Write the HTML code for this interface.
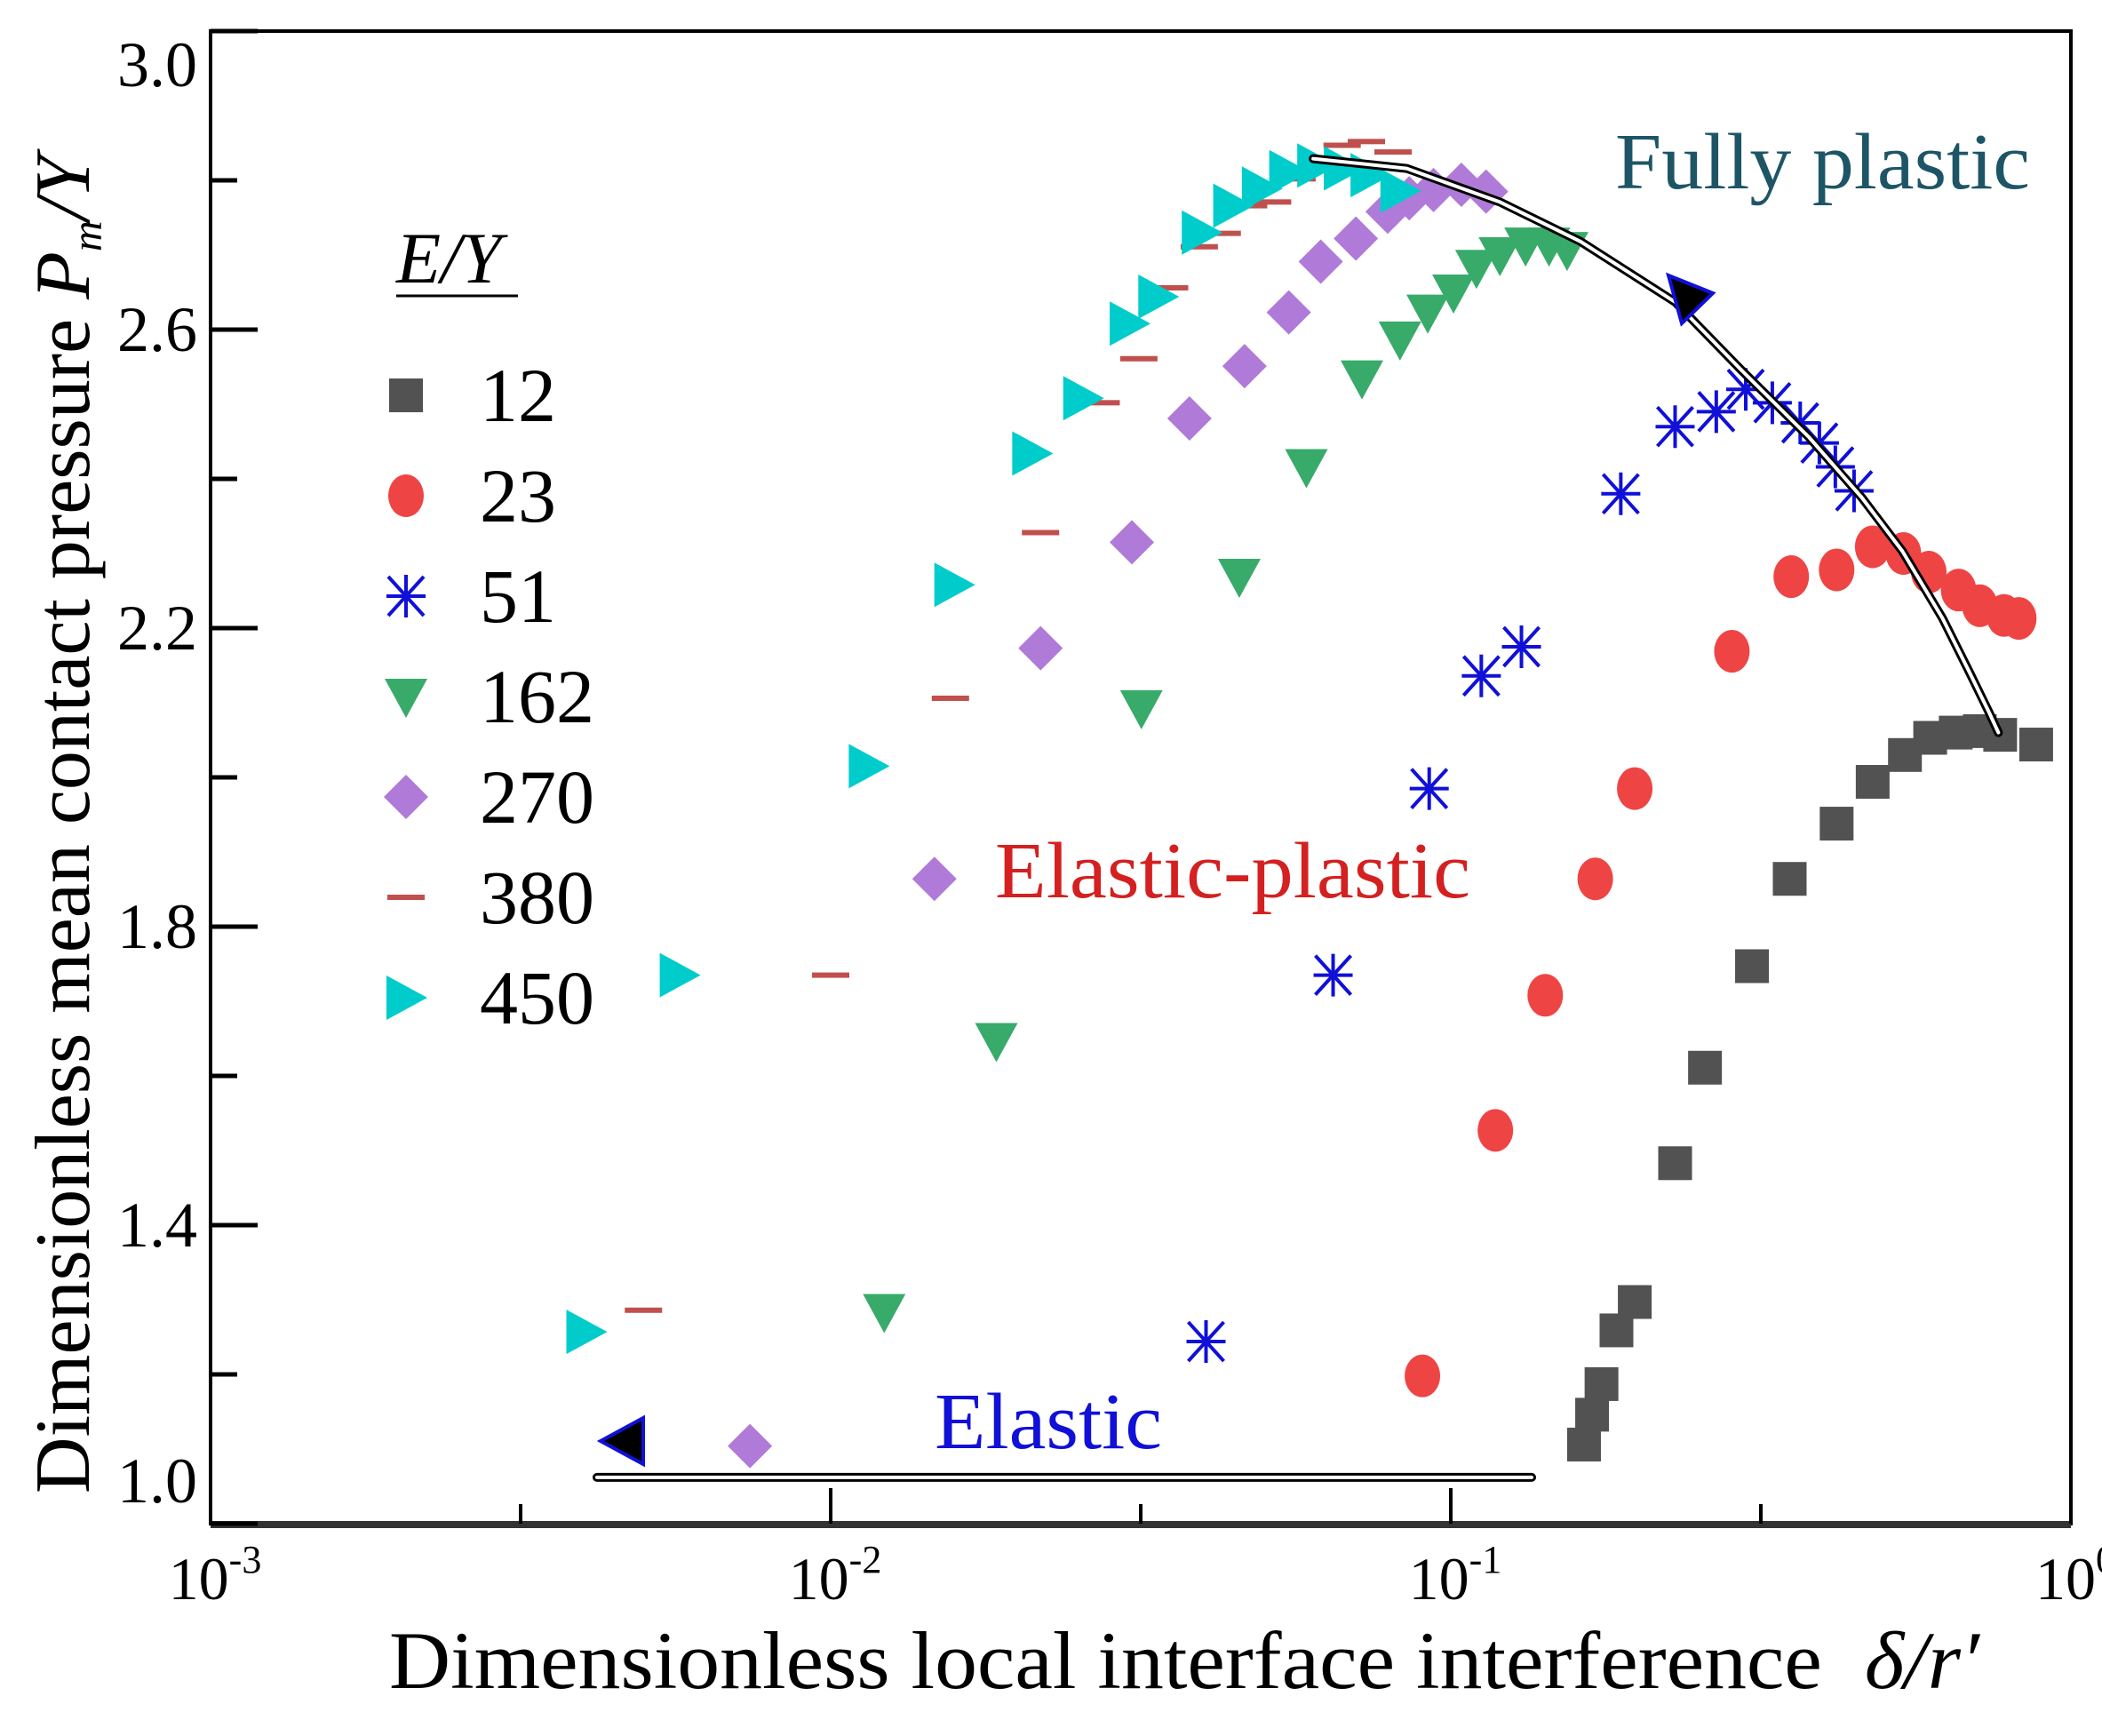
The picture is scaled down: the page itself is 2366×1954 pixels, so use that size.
<!DOCTYPE html>
<html><head><meta charset="utf-8"><style>
html,body{margin:0;padding:0;background:#fff;}
svg{display:block;font-family:"Liberation Serif",serif;}
</style></head><body>
<svg id="chart" width="2366" height="1954" viewBox="0 0 2366 1954" xmlns="http://www.w3.org/2000/svg">
<g id="frame"></g>
<g id="marks"></g>
<g id="annot"></g>
</svg>
<script>
const xTickValues=[0.001,0.01,0.1,1];
const xTickExps=["-3","-2","-1","0"];
const yTickValues=[1.0,1.4,1.8,2.2,2.6,3.0];
const yTickLabels=["1.0","1.4","1.8","2.2","2.6","3.0"];
const seriesNames=["12","23","51","162","270","380","450"];
const x12=[0.164,0.169,0.175,0.185,0.198,0.230,0.257,0.306,0.352,0.419,0.479,0.540,0.593,0.652,0.713,0.769,0.879];
const y12=[1.106,1.146,1.187,1.259,1.297,1.483,1.611,1.747,1.864,1.938,1.994,2.030,2.053,2.060,2.062,2.057,2.044];
const x23=[0.090,0.118,0.142,0.171,0.198,0.284,0.354,0.419,0.479,0.537,0.590,0.659,0.713,0.780,0.824];
const y23=[1.198,1.527,1.708,1.864,1.985,2.169,2.269,2.278,2.309,2.300,2.275,2.251,2.230,2.217,2.213];
const x51=[0.0403,0.0646,0.0923,0.112,0.130,0.188,0.230,0.268,0.299,0.330,0.366,0.393,0.417,0.447];
const y51=[1.244,1.735,1.985,2.136,2.175,2.380,2.470,2.490,2.520,2.502,2.475,2.448,2.416,2.384];
const x162=[0.0122,0.0185,0.0317,0.0456,0.0585,0.0719,0.0828,0.0918,0.101,0.110,0.120,0.132,0.144,0.154];
const y162=[1.284,1.647,2.093,2.269,2.416,2.535,2.587,2.623,2.650,2.683,2.700,2.713,2.713,2.707];
const x270=[0.00741,0.0147,0.0218,0.0306,0.0379,0.0465,0.0548,0.0617,0.0703,0.0791,0.0857,0.0938,0.104,0.114];
const y270=[1.104,1.864,2.173,2.315,2.481,2.551,2.623,2.691,2.722,2.758,2.776,2.787,2.794,2.785];
const x380=[0.00499,0.0100,0.0156,0.0218,0.0273,0.0314,0.0352,0.0393,0.0428,0.0472,0.0516,0.0565,0.0614,0.0668,0.0731,0.0807];
const y380=[1.286,1.735,2.106,2.328,2.502,2.561,2.656,2.711,2.729,2.766,2.771,2.802,2.822,2.847,2.852,2.838];
const x450=[0.00403,0.00570,0.0115,0.0158,0.0211,0.0255,0.0303,0.0337,0.0396,0.0445,0.0495,0.0548,0.0608,0.0671,0.0741,0.0828];
const y450=[1.257,1.735,2.015,2.258,2.434,2.508,2.608,2.644,2.730,2.766,2.789,2.811,2.820,2.816,2.807,2.786];
const plasticX=[0.060,0.0849,0.120,0.162,0.230,0.294,0.378,0.460,0.535,0.621,0.686,0.738,0.764];
const plasticY=[2.829,2.816,2.771,2.718,2.637,2.546,2.456,2.375,2.303,2.213,2.141,2.087,2.060];
const elasticX=[0.0042,0.135];
const elasticY=[1.062,1.062];

const NS="http://www.w3.org/2000/svg";
const L=237,R=2331,T=35,B=1715;
function X(v){return L+(Math.log10(v)+3)*(R-L)/3;}
function Y(v){return B-(v-1)*(B-T)/2;}
function mk(tag,attrs,parent){const e=document.createElementNS(NS,tag);for(const k in attrs)e.setAttribute(k,attrs[k]);parent.appendChild(e);return e;}
const frame=document.getElementById('frame'),marks=document.getElementById('marks'),annot=document.getElementById('annot');

let f=mk('rect',{x:L,y:T,width:R-L,height:B-T,fill:'none',stroke:'#000','stroke-width':4},frame);


let xa=mk('line',{x1:L,y1:B+1,x2:R,y2:B+1,stroke:'#333','stroke-width':8},frame);



for(let k=0;k<=10;k++){
  const v=1+k*0.2;
  const major=k%2===0;
  const t=mk('line',{x1:L,y1:Y(v),x2:L+(major?53:30),y2:Y(v),stroke:'#000','stroke-width':5},frame);
  
  
}
yTickValues.forEach((v,i)=>{
  const off=[-48,0,0,0,0,38][i];
  const t=mk('text',{x:222,y:Y(v)+off+24,'text-anchor':'end','font-size':72},frame);
  t.textContent=yTickLabels[i];
  
  
});
for(let k=0;k<=6;k++){
  const e=-3+k*0.5;
  const major=k%2===0;
  const xx=L+(e+3)*(R-L)/3;
  const t=mk('line',{x1:xx,y1:B,x2:xx,y2:B-(major?40:22),stroke:'#000','stroke-width':4},frame);
  
  
}
xTickValues.forEach((v,i)=>{
  const t=mk('text',{x:X(v)+5,y:1800,'text-anchor':'middle','font-size':68},frame);
  t.textContent='10';
  const s=mk('tspan',{dy:-30,'font-size':44},t);
  s.textContent=xTickExps[i];
  
  
});
let xt=mk('text',{x:438,y:1900,'font-size':92,textLength:1790,lengthAdjust:'spacingAndGlyphs'},frame);
xt.innerHTML='Dimensionless local interface interference&#160;&#160;<tspan font-style="italic">δ/r′</tspan>';


let yt=mk('text',{x:0,y:0,'font-size':88,'text-anchor':'middle',transform:'translate(100,928) rotate(-90)'},frame);
yt.innerHTML='Dimensionless mean contact pressure <tspan font-style="italic">P</tspan><tspan font-style="italic" font-size="48" dy="14">m</tspan><tspan font-style="italic" dy="-14">/Y</tspan>';



function dbl(xs,ys,name){
  const d=xs.map((v,i)=>(i?'L':'M')+X(v).toFixed(1)+','+Y(ys[i]).toFixed(1)).join(' ');
  const g=mk('g',{},annot);
  
  
  mk('path',{d:d,fill:'none',stroke:'#000','stroke-width':10,'stroke-linejoin':'round','stroke-linecap':'round'},g);
  mk('path',{d:d,fill:'none',stroke:'#fff','stroke-width':4,'stroke-linejoin':'round','stroke-linecap':'round'},g);
}
dbl(plasticX,plasticY,'fully-plastic-boundary');
dbl(elasticX,elasticY,'elastic-boundary');

function marker(type,cx,cy,parent){
  const g=mk('g',{},parent);
  if(type==='sq') mk('rect',{x:cx-19,y:cy-19,width:38,height:38,fill:'#525252'},g);
  else if(type==='ci') mk('ellipse',{cx:cx,cy:cy,rx:20,ry:24,fill:'#ef4444'},g);
  else if(type==='as'){
    const c='#1010d8';
    mk('line',{x1:cx-22,y1:cy,x2:cx+22,y2:cy,stroke:c,'stroke-width':4},g);
    mk('line',{x1:cx,y1:cy-24,x2:cx,y2:cy+24,stroke:c,'stroke-width':4},g);
    mk('line',{x1:cx-20,y1:cy-22,x2:cx+20,y2:cy+22,stroke:c,'stroke-width':4},g);
    mk('line',{x1:cx-20,y1:cy+22,x2:cx+20,y2:cy-22,stroke:c,'stroke-width':4},g);
  }
  else if(type==='dt') mk('polygon',{points:`${cx-24},${cy-20} ${cx+24},${cy-20} ${cx},${cy+24}`,fill:'#38ab6a'},g);
  else if(type==='di') mk('polygon',{points:`${cx},${cy-25} ${cx+25},${cy} ${cx},${cy+25} ${cx-25},${cy}`,fill:'#b07ad8'},g);
  else if(type==='da') mk('rect',{x:cx-21,y:cy-3,width:42,height:6,fill:'#c0504d'},g);
  else if(type==='rt') mk('polygon',{points:`${cx-22},${cy-25} ${cx+24},${cy} ${cx-22},${cy+25}`,fill:'#00cccc'},g);
  return g;
}
const sets=[[x12,y12,'sq'],[x23,y23,'ci'],[x51,y51,'as'],[x162,y162,'dt'],[x270,y270,'di'],[x380,y380,'da'],[x450,y450,'rt']];
sets.forEach((s,k)=>{
  const g=mk('g',{},marks);
  
  
  s[0].forEach((v,i)=>{
    const m=marker(s[2],X(v),Y(s[1][i]),g);
    
    
  });
});

let a1=mk('polygon',{points:'676,1622 724,1596 724,1648',fill:'#000',stroke:'#1010d8','stroke-width':4},annot);


let a2=mk('polygon',{points:'1878,310 1928,330 1893,364',fill:'#000',stroke:'#1010d8','stroke-width':4},annot);



function lab(x,y,txt,col,name,w){
  const t=mk('text',{x:x,y:y,'font-size':90,fill:col,textLength:w,lengthAdjust:'spacingAndGlyphs'},annot);
  t.textContent=txt;
  
  
}
lab(1818,212,'Fully plastic','#1e5566','fully-plastic-label',467);
lab(1120,1010,'Elastic-plastic','#d42020','elastic-plastic-label',535);
lab(1052,1630,'Elastic','#1010d8','elastic-label',256);

const lg=mk('g',{},annot);


let lt=mk('text',{x:446,y:318,'font-size':82,'font-style':'italic'},lg);
lt.textContent='E/Y';


mk('line',{x1:446,y1:333,x2:583,y2:333,stroke:'#000','stroke-width':3},lg);
const types=['sq','ci','as','dt','di','da','rt'];
seriesNames.forEach((n,i)=>{
  const cy=445+i*113;
  const e=mk('g',{},lg);
  
  
  marker(types[i],457,cy,e);
  const t=mk('text',{x:540,y:cy+29,'font-size':86},e);
  t.textContent=n;
});
</script>
</body></html>
